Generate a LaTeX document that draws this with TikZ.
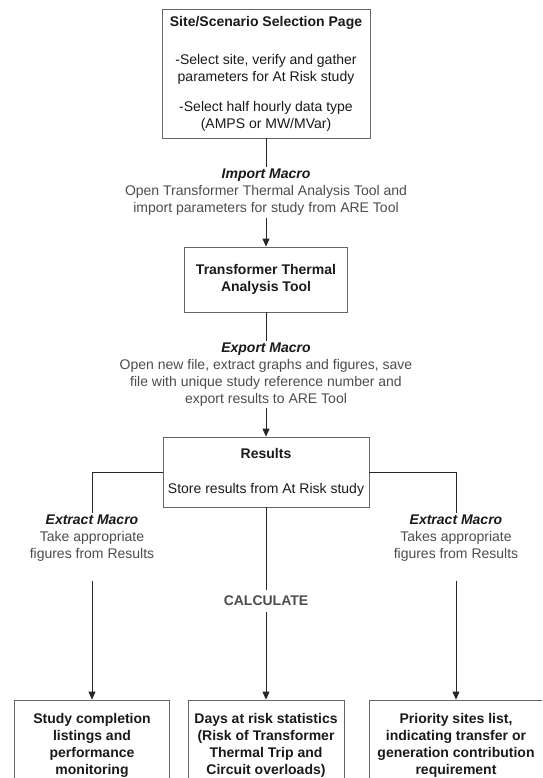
\documentclass[tikz,border=0pt]{standalone}
\usepackage{fontspec}
\setmainfont{Liberation Sans}
\usetikzlibrary{arrows.meta}
\newcommand{\macrohead}[1]{\textcolor{black!90}{\textbf{\textit{#1}}}}
\begin{document}
\begin{tikzpicture}[x=1pt, y=-1pt,
        box/.style={draw=black!60, line width=0.8pt, align=center, text=black!90, font=\fontsize{14}{17}\selectfont\bfseries},
        note/.style={align=center, inner sep=2pt, text=black!70, font=\fontsize{14}{17}\selectfont},
        link/.style={black!85, line width=0.8pt},
        arr/.style={link, -{Triangle[length=8pt, width=7pt]}}]
        \useasboundingbox (0, 0) rectangle (542, 778);
        \clip (0, 0) rectangle (542, 778);
        % boxes down the middle
        \node[box, minimum width=208pt, minimum height=129pt] (site) at (266, 73.5) {Site/Scenario Selection Page\\[21pt]
            \mdseries -Select site, verify and gather\\ \mdseries parameters for At Risk study\\[13pt]
            \mdseries -Select half hourly data type\\ \mdseries (AMPS or MW/MVar)};
        \node[note] (import) at (266, 192.5) {\macrohead{Import Macro}\\ Open Transformer Thermal Analysis Tool and\\ import parameters for study from ARE Tool};
        \node[box, minimum width=163pt, minimum height=65pt] (tool) at (266, 279.5) {Transformer Thermal\\ Analysis Tool};
        \node[note] (export) at (266, 374.5) {\macrohead{Export Macro}\\ Open new file, extract graphs and figures, save\\ file with unique study reference number and\\ export results to ARE Tool};
        \node[box, minimum width=206pt, minimum height=70pt] (res) at (266, 472) {Results\\[18pt] \mdseries Store results from At Risk study};
        % branches
        \node[note] (extL) at (92, 538) {\macrohead{Extract Macro}\\ Take appropriate\\ figures from Results};
        \node[note] (extR) at (456, 538) {\macrohead{Extract Macro}\\ Takes appropriate\\ figures from Results};
        \node[note, inner sep=6pt, font=\fontsize{14}{17}\selectfont\bfseries] (calc) at (266, 601) {CALCULATE};
        \node[box, minimum width=155pt, minimum height=90pt] (study) at (92, 745) {Study completion\\ listings and\\ performance\\ monitoring};
        \node[box, minimum width=156pt, minimum height=90pt] (days) at (266, 745) {Days at risk statistics\\ (Risk of Transformer\\ Thermal Trip and\\ Circuit overloads)};
        \node[box, minimum width=174pt, minimum height=90pt] (prio) at (456, 745) {Priority sites list,\\ indicating transfer or\\ generation contribution\\ requirement};
        % connectors
        \draw[link] (site) -- (import);
        \draw[arr] (import) -- (tool);
        \draw[link] (tool) -- (export);
        \draw[arr] (export) -- (res);
        \draw[link] (res.west) -| (extL);
        \draw[link] (res.east) -| (extR);
        \draw[link] (res) -- (calc);
        \draw[arr] (calc) -- (days);
        \draw[arr] ([yshift=-18pt]extL.south) -- (study);
        \draw[arr] ([yshift=-18pt]extR.south) -- (prio);
\end{tikzpicture}
\end{document}
